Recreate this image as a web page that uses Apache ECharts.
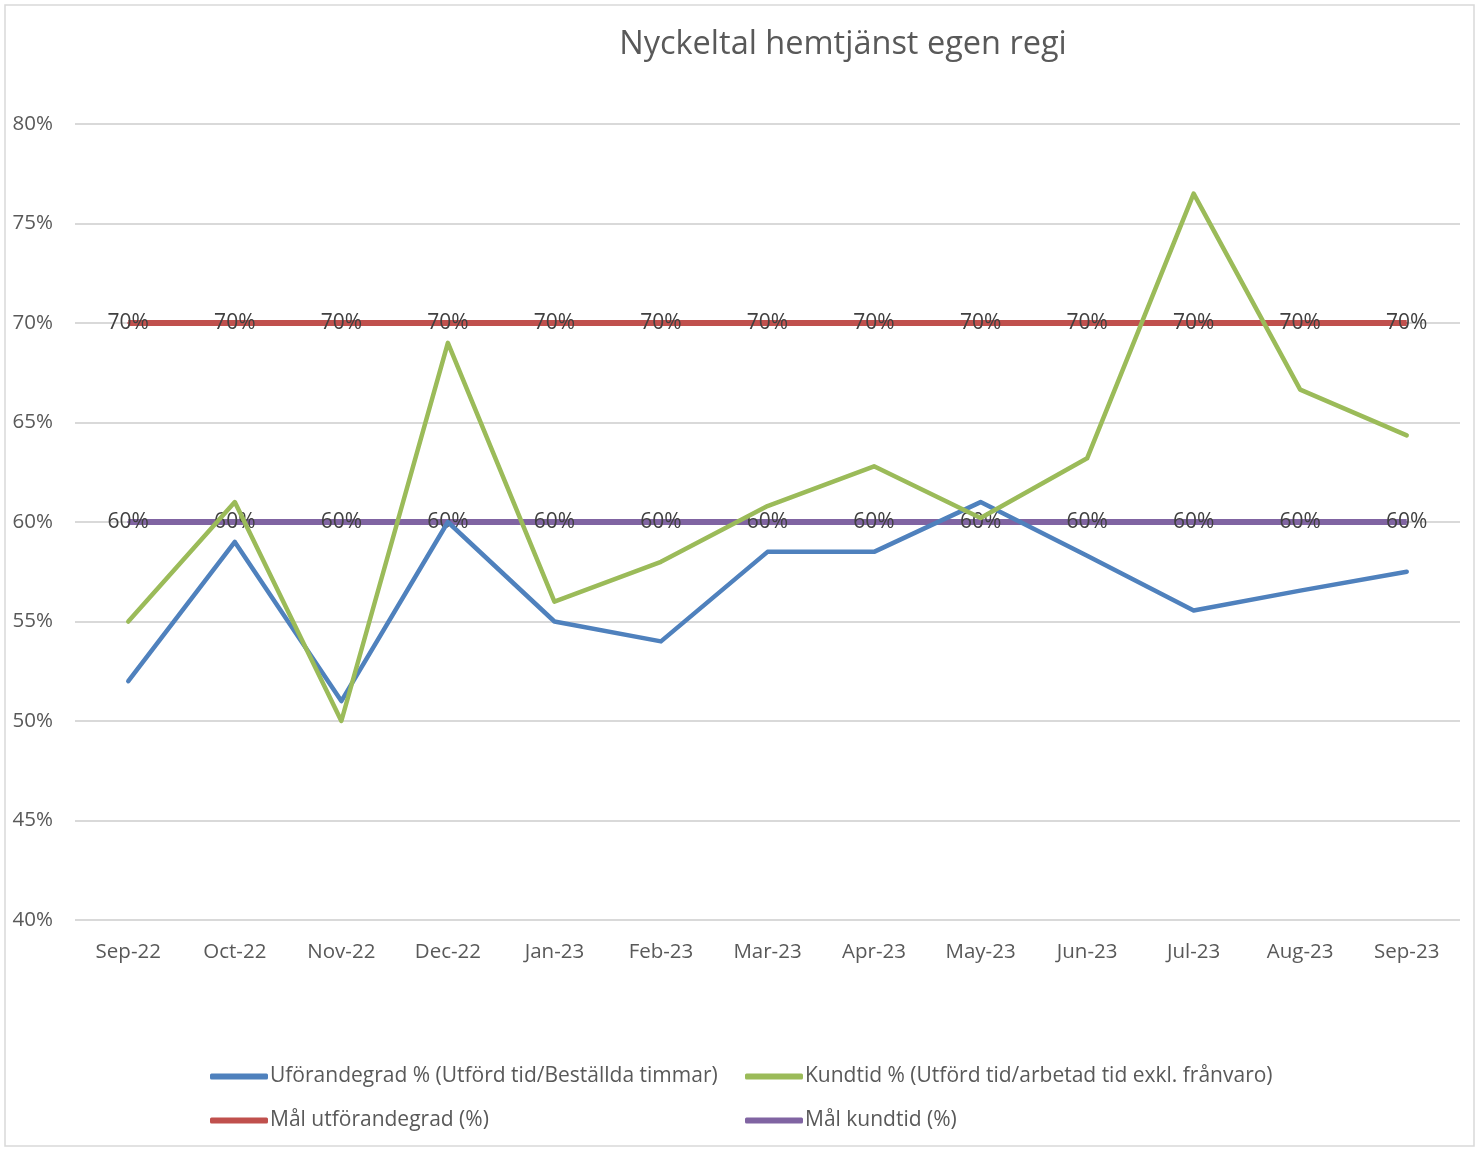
<!DOCTYPE html>
<html>
<head>
<meta charset="utf-8">
<title>Nyckeltal hemtjänst egen regi</title>
<script src="https://cdn.jsdelivr.net/npm/echarts@6/dist/echarts.min.js"></script>
<style>
  html, body { margin: 0; padding: 0; background: #fff; }
  #chart { width: 1482px; height: 1149px; }
</style>
</head>
<body>
<div id="chart"></div>
<script>
// months on the x axis
var months = ['Sep-22', 'Oct-22', 'Nov-22', 'Dec-22', 'Jan-23', 'Feb-23', 'Mar-23',
  'Apr-23', 'May-23', 'Jun-23', 'Jul-23', 'Aug-23', 'Sep-23'];

// values in percent
var utforandegrad = [52.0, 59.0, 51.0, 60.0, 55.0, 54.0, 58.5, 58.5, 61.0, 58.3, 55.55, 56.55, 57.5];
var kundtid = [55.0, 61.0, 50.0, 69.0, 56.0, 58.0, 60.8, 62.8, 60.2, 63.2, 76.5, 66.65, 64.35];
var malUtforandegrad = [70, 70, 70, 70, 70, 70, 70, 70, 70, 70, 70, 70, 70];
var malKundtid = [60, 60, 60, 60, 60, 60, 60, 60, 60, 60, 60, 60, 60];

var names = [
  'Uförandegrad % (Utförd tid/Beställda timmar)',
  'Kundtid % (Utförd tid/arbetad tid exkl. frånvaro)',
  'Mål utförandegrad (%)',
  'Mål kundtid (%)'
];
var colors = ['#4f81bd', '#9bbb59', '#c0504d', '#8064a2'];

var font = '"Open Sans", sans-serif';

function legendAt(i, left, top) {
  return {
    data: [names[i]],
    left: left,
    top: top,
    padding: 0,
    icon: 'roundRect',
    itemWidth: 58,
    itemHeight: 6,
    itemGap: 0,
    selectedMode: false,
    textStyle: { fontFamily: font, fontSize: 21, color: '#595959', padding: [0, 0, 0, -3] }
  };
}

function goalSeries(i, data) {
  return {
    name: names[i],
    type: 'line',
    data: data,
    symbol: 'circle',
    symbolSize: 2,
    showSymbol: true,
    lineStyle: { width: 6, color: colors[i] },
    itemStyle: { color: colors[i] },
    label: {
      show: true,
      position: 'inside',
      formatter: '{c}%',
      fontFamily: font,
      fontSize: 21,
      color: '#404040'
    },
    emphasis: { disabled: true },
    silent: true,
    z: 2
  };
}

function dataSeries(i, data) {
  return {
    name: names[i],
    type: 'line',
    data: data,
    symbol: 'none',
    lineStyle: { width: 4.5, color: colors[i], cap: 'round', join: 'round' },
    itemStyle: { color: colors[i] },
    emphasis: { disabled: true },
    silent: true,
    z: 3
  };
}

var chart = echarts.init(document.getElementById('chart'));
chart.setOption({
  animation: false,
  backgroundColor: '#fff',
  title: {
    text: 'Nyckeltal hemtjänst egen regi',
    left: 838,
    top: 23,
    textAlign: 'center',
    textStyle: { fontFamily: font, fontSize: 32.5, fontWeight: 'normal', color: '#595959' }
  },
  graphic: [{
    type: 'rect',
    shape: { x: 5, y: 5, width: 1469, height: 1141 },
    style: { fill: null, stroke: '#d9d9d9', lineWidth: 1.5 },
    silent: true,
    z: -1
  }],
  legend: [
    legendAt(0, 210, 1066),
    legendAt(1, 745, 1066),
    legendAt(2, 210, 1110),
    legendAt(3, 745, 1110)
  ],
  grid: { left: 75, right: 22, top: 124, bottom: 229, containLabel: false },
  xAxis: {
    type: 'category',
    data: months,
    boundaryGap: true,
    axisLine: { show: false },
    axisTick: { show: false },
    axisLabel: { fontFamily: font, fontSize: 20.5, color: '#595959', margin: 22 }
  },
  yAxis: {
    type: 'value',
    min: 40,
    max: 80,
    interval: 5,
    axisLine: { show: false },
    axisTick: { show: false },
    axisLabel: { fontFamily: font, fontSize: 20.5, color: '#595959', margin: 22, formatter: '{value}%' },
    splitLine: { lineStyle: { color: '#d9d9d9', width: 2 } }
  },
  series: [
    goalSeries(2, malUtforandegrad),
    goalSeries(3, malKundtid),
    dataSeries(0, utforandegrad),
    dataSeries(1, kundtid)
  ]
});
</script>
</body>
</html>
